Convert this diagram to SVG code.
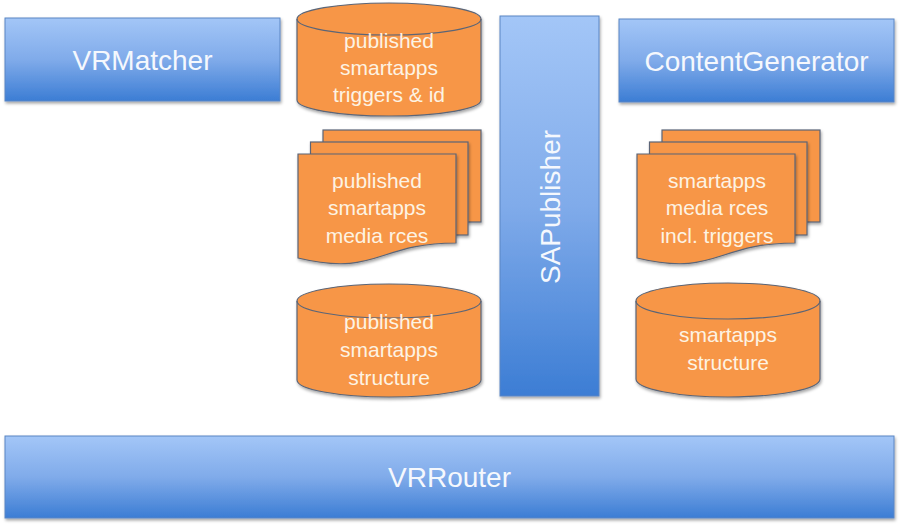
<svg xmlns="http://www.w3.org/2000/svg" width="900" height="524" viewBox="0 0 900 524">
<defs>
<linearGradient id="blueGrad" x1="0" y1="0" x2="0" y2="1">
<stop offset="0" stop-color="#a3c6f7"/>
<stop offset="0.5" stop-color="#80abea"/>
<stop offset="1" stop-color="#3c7dd4"/>
</linearGradient>
<filter id="shadow" x="-10%" y="-10%" width="120%" height="130%">
<feDropShadow dx="1" dy="2" stdDeviation="1.5" flood-color="#000" flood-opacity="0.35"/>
</filter>
</defs>
<style>
.box{fill:url(#blueGrad);stroke:#5a86c4;stroke-width:1;filter:url(#shadow)}
.orange{fill:#f79646;stroke:#5b6577;stroke-width:1.2;filter:url(#shadow)}
.lid{fill:none;stroke:#5b6577;stroke-width:1.2}
.btxt{font-family:"Liberation Sans",Arial,sans-serif;font-size:28px;fill:#f5f8fd;text-anchor:middle}
.otxt{font-family:"Liberation Sans",Arial,sans-serif;font-size:21px;fill:#fdf3e3;text-anchor:middle}
</style>
<rect width="900" height="524" fill="#ffffff"/>
<g id="connectors"></g>
<g id="vrmatcher">
<rect class="box" x="5" y="18" width="275" height="83"/>
<text class="btxt" x="142.5" y="70">VRMatcher</text>
</g>
<g id="contentgenerator">
<rect class="box" x="619" y="19" width="275" height="83"/>
<text class="btxt" x="756.5" y="71">ContentGenerator</text>
</g>
<g id="sapublisher">
<rect class="box" x="500" y="16" width="99" height="380"/>
<text class="btxt" transform="translate(560,207) rotate(-90)" x="0" y="0">SAPublisher</text>
</g>
<g id="vrrouter">
<rect class="box" x="5" y="436" width="889" height="82"/>
<text class="btxt" x="449.5" y="487">VRRouter</text>
</g>
<g id="published-triggers">
<path class="orange" d="M297,19 A92,16 0 0 1 481,19 V100 A92,16 0 0 1 297,100 Z"/>
<path class="lid" d="M297,19 A92,16 0 0 0 481,19"/>
<text class="otxt" x="389" y="48">published</text>
<text class="otxt" x="389" y="75">smartapps</text>
<text class="otxt" x="389" y="102">triggers &amp; id</text>
</g>
<g id="published-media">
<rect class="orange" x="323" y="130" width="158" height="92"/>
<rect class="orange" x="310.5" y="142" width="157.5" height="93"/>
<path class="orange" d="M298,154 H456 V243 C377,243 377,277 298,258 Z"/>
<text class="otxt" x="377" y="188">published</text>
<text class="otxt" x="377" y="215">smartapps</text>
<text class="otxt" x="377" y="243">media rces</text>
</g>
<g id="published-structure">
<path class="orange" d="M297,301 A92,17 0 0 1 481,301 V380 A92,17 0 0 1 297,380 Z"/>
<path class="lid" d="M297,301 A92,17 0 0 0 481,301"/>
<text class="otxt" x="389" y="329">published</text>
<text class="otxt" x="389" y="357">smartapps</text>
<text class="otxt" x="389" y="385">structure</text>
</g>
<g id="media-triggers">
<rect class="orange" x="662" y="130" width="158" height="92"/>
<rect class="orange" x="649.5" y="142" width="157.5" height="93"/>
<path class="orange" d="M637,154 H795 V243 C716,243 716,277 637,258 Z"/>
<text class="otxt" x="717" y="188">smartapps</text>
<text class="otxt" x="717" y="215">media rces</text>
<text class="otxt" x="717" y="243">incl. triggers</text>
</g>
<g id="structure">
<path class="orange" d="M636,301 A92,18 0 0 1 820,301 V379 A92,18 0 0 1 636,379 Z"/>
<path class="lid" d="M636,301 A92,18 0 0 0 820,301"/>
<text class="otxt" x="728" y="342">smartapps</text>
<text class="otxt" x="728" y="370">structure</text>
</g>
</svg>
